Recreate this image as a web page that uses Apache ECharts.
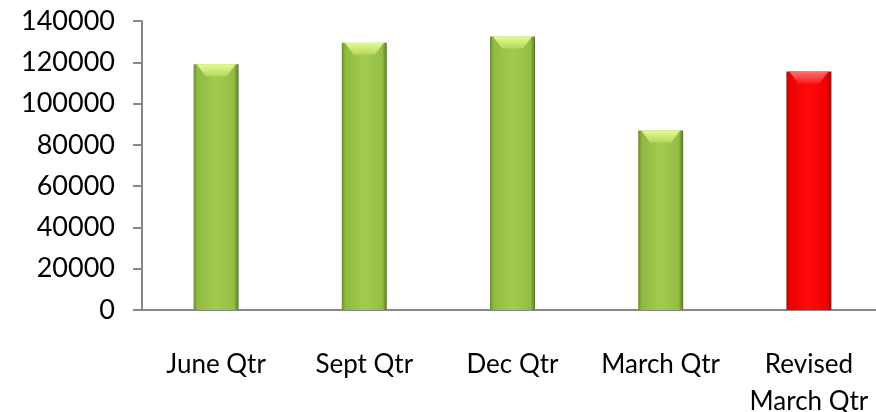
<!DOCTYPE html>
<html>
<head>
<meta charset="utf-8">
<script src="https://cdn.jsdelivr.net/npm/echarts@6/dist/echarts.min.js"></script>
<style>
  html, body { margin: 0; padding: 0; background: #fff; }
  #chart { width: 876px; height: 412px; }
</style>
</head>
<body>
<div id="chart"></div>
<script>
  // data
  const categories = ['June Qtr', 'Sept Qtr', 'Dec Qtr', 'March Qtr', 'Revised\nMarch Qtr'];
  const values = [119000, 129500, 132500, 87000, 115500];
  const redIndex = 4; // revised bar shown in red

  const chart = echarts.init(document.getElementById('chart'));

  // side shading of the bars (dark edges, light middle)
  function sideFill(red) {
    const c = red
      ? ['#a81010', '#ee0000', '#ff0a0a', '#f20000', '#8e1010']
      : ['#6c8b31', '#8fb940', '#a2cb4e', '#93bd45', '#5a762a'];
    return new echarts.graphic.LinearGradient(0, 0, 1, 0, [
      { offset: 0, color: c[0] },
      { offset: 0.08, color: c[1] },
      { offset: 0.5, color: c[2] },
      { offset: 0.9, color: c[3] },
      { offset: 1, color: c[4] }
    ]);
  }

  const barW = 45;

  chart.setOption({
    animation: false,
    grid: {
      left: 142, top: 21, width: 741, height: 289,
      containLabel: false,
      outerBoundsMode: 'none'
    },
    xAxis: {
      type: 'category',
      data: categories,
      axisLine: { lineStyle: { color: '#878787', width: 2 } },
      axisTick: { show: false },
      axisLabel: {
        color: '#000',
        fontFamily: 'Lato',
        fontSize: 26,
        lineHeight: 37,
        margin: 36,
        interval: 0
      }
    },
    yAxis: {
      type: 'value',
      min: 0,
      max: 140000,
      interval: 20000,
      splitLine: { show: false },
      axisLine: { show: true, lineStyle: { color: '#878787', width: 2 } },
      axisTick: { show: true, length: 9, lineStyle: { color: '#878787', width: 2 } },
      axisLabel: {
        color: '#000',
        fontFamily: 'Lato',
        fontSize: 27,
        margin: 27,
        formatter: v => String(v)
      }
    },
    series: [
      {
        type: 'bar',
        barWidth: barW,
        data: values.map((v, i) => ({
          value: v,
          itemStyle: { color: sideFill(i === redIndex) }
        }))
      },
      {
        // bevelled highlight on top of each bar
        type: 'custom',
        data: values.map((v, i) => [i, v]),
        z: 3,
        renderItem: function (params, api) {
          const p = api.coord([api.value(0), api.value(1)]);
          const red = api.value(0) === redIndex;
          const h = barW / 2;
          return {
            type: 'polygon',
            shape: {
              points: [
                [p[0] - h + 3, p[1]],
                [p[0] + h - 3, p[1]],
                [p[0] + h - 12, p[1] + 12],
                [p[0] - h + 12, p[1] + 12]
              ]
            },
            style: {
              fill: new echarts.graphic.LinearGradient(0, 0, 0, 1, red
                ? [{ offset: 0, color: '#ff7070' }, { offset: 1, color: '#ff1a1a' }]
                : [{ offset: 0, color: '#e6fa96' }, { offset: 1, color: '#b2d85a' }])
            }
          };
        }
      }
    ]
  });
</script>
</body>
</html>
